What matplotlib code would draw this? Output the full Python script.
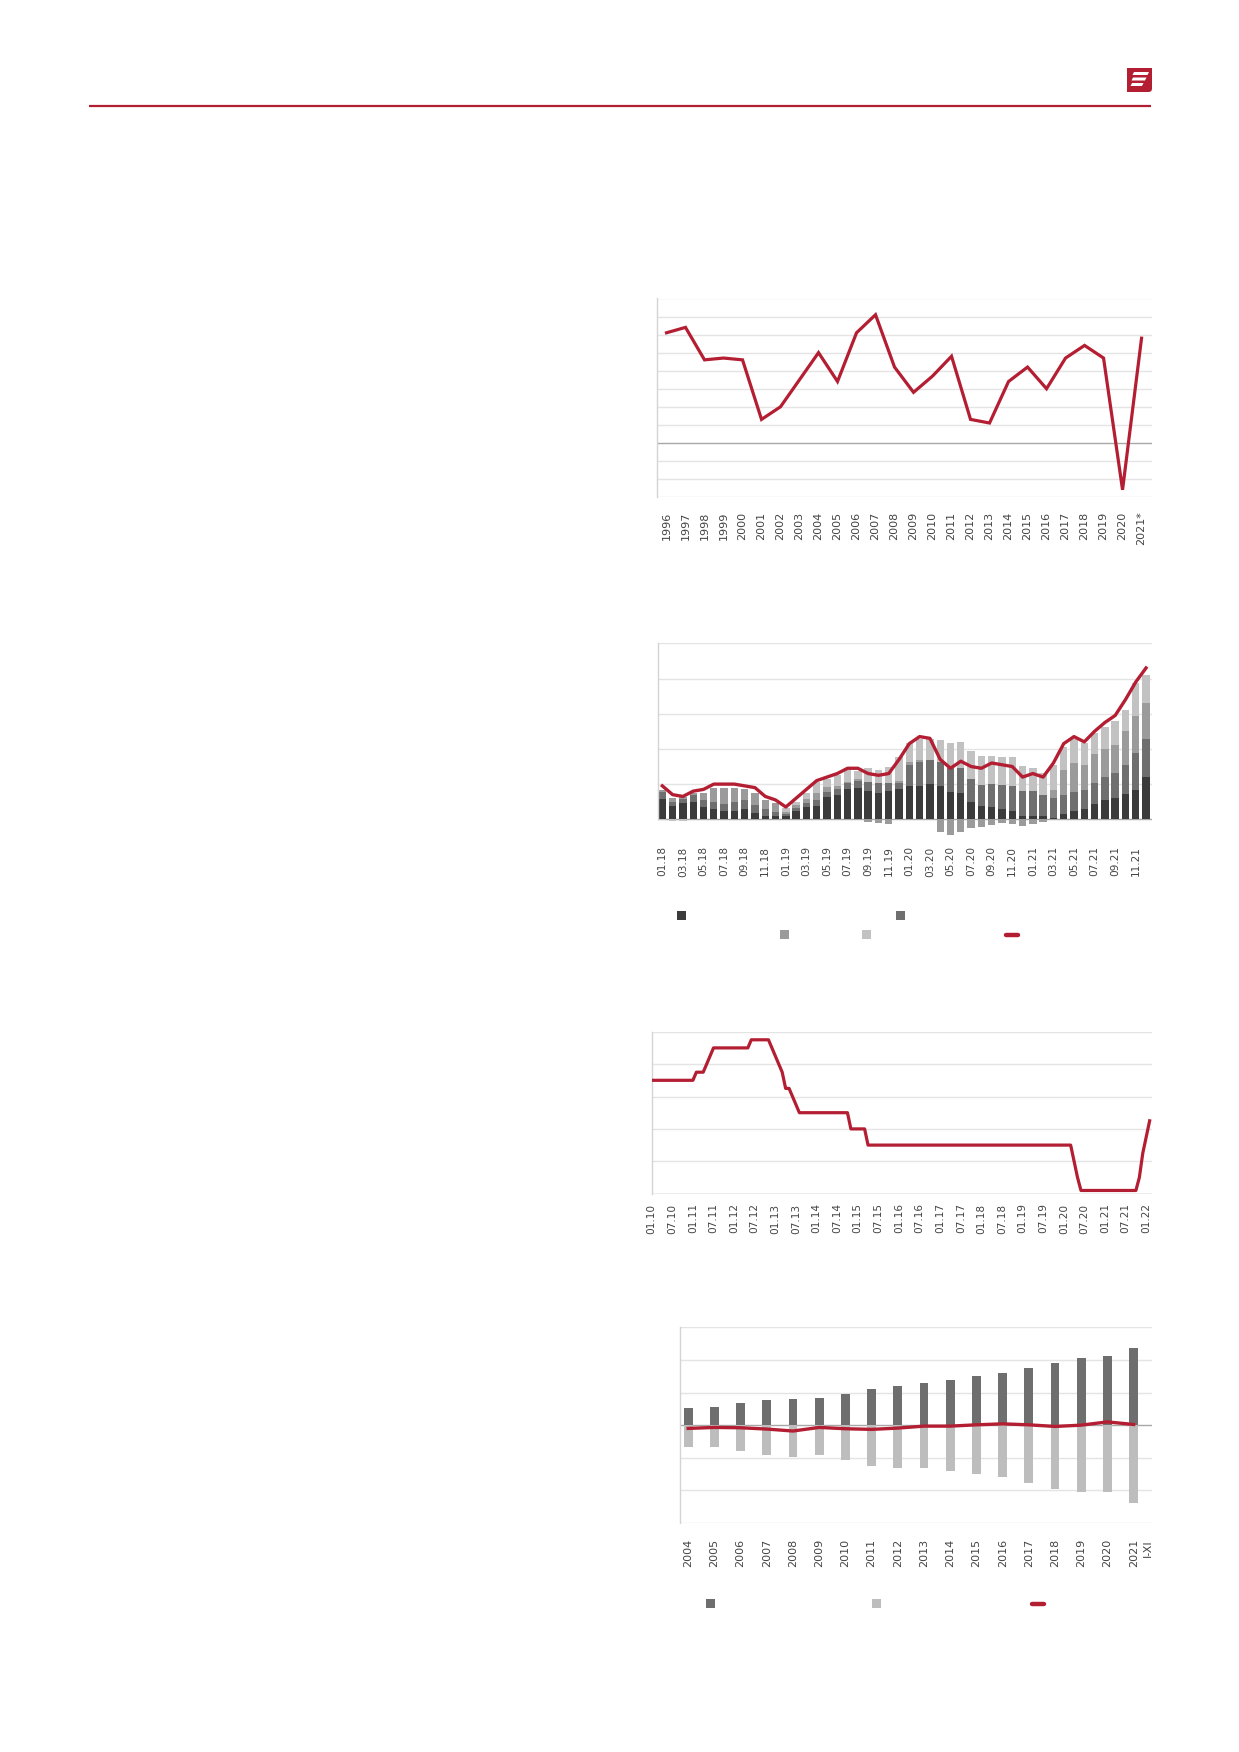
import numpy as np
import matplotlib
matplotlib.use("Agg")
import matplotlib.pyplot as plt
from matplotlib.patches import Rectangle, FancyBboxPatch, Polygon
import matplotlib.transforms as mtransforms

plt.rcParams['font.family'] = ['DejaVu Sans']

RED = '#b41e32'
GRID = '#e4e4e4'
ZERO = '#a8a8a8'
SPINE = '#d4d4d4'
TXT = '#444444'

# chart 1: yearly growth
years1 = [str(y) for y in range(1996, 2021)] + ['2021*']
growth = [6.1, 6.4, 4.6, 4.7, 4.6, 1.3, 2.0, 3.5, 5.0, 3.4, 6.1, 7.1, 4.2,
          2.8, 3.7, 4.8, 1.3, 1.1, 3.4, 4.2, 3.0, 4.7, 5.4, 4.7, -2.6, 5.8]

# chart 2: monthly components 01.18 - 12.21
months2 = ['%02d.%02d' % (m, y) for y in range(18, 22) for m in range(1, 13)]
comp1 = [1.17, 0.78, 0.91, 1.00, 0.72, 0.59, 0.49, 0.49, 0.60, 0.38, 0.21, 0.21,
         0.21, 0.49, 0.72, 0.78, 1.29, 1.38, 1.70, 1.80, 1.61, 1.52, 1.61, 1.70,
         1.89, 1.89, 1.99, 1.89, 1.57, 1.48, 1.00, 0.76, 0.72, 0.57, 0.49, 0.21,
         0.21, 0.21, 0.10, 0.30, 0.47, 0.59, 0.87, 1.10, 1.19, 1.42, 1.67, 2.42]
comp2 = [0.40, 0.22, 0.23, 0.38, 0.38, 0.41, 0.38, 0.51, 0.50, 0.43, 0.38, 0.23,
         0.09, 0.13, 0.19, 0.32, 0.28, 0.32, 0.35, 0.38, 0.53, 0.53, 0.47, 0.38,
         1.20, 1.39, 1.38, 1.39, 1.33, 1.42, 1.29, 1.19, 1.28, 1.38, 1.40, 1.40,
         1.40, 1.17, 1.09, 1.08, 1.10, 1.08, 1.18, 1.32, 1.46, 1.67, 2.12, 2.14]
comp3 = [0.10, 0.19, 0.11, 0.12, 0.42, 0.76, 0.93, 0.80, 0.60, 0.67, 0.51, 0.47,
         0.14, 0.19, 0.23, 0.38, 0.25, 0.19, 0.09, 0.09, -0.13, -0.19, -0.27, 0.10,
         0.19, 0.09, 0.00, -0.70, -0.89, -0.70, -0.51, -0.45, -0.32, -0.23, -0.27, -0.38,
         -0.27, -0.13, 0.48, 1.42, 1.61, 1.42, 1.66, 1.58, 1.57, 1.93, 2.08, 2.07]
comp4 = [-0.06, -0.10, -0.10, 0.00, 0.00, 0.00, 0.00, 0.00, 0.00, 0.00, 0.00, 0.00,
         0.18, 0.19, 0.38, 0.66, 0.45, 0.63, 0.66, 0.50, 0.76, 0.75, 0.92, 1.38,
         1.08, 1.18, 1.18, 1.22, 1.42, 1.51, 1.61, 1.65, 1.60, 1.57, 1.63, 1.42,
         1.29, 1.27, 1.42, 1.33, 1.37, 1.27, 1.18, 1.27, 1.38, 1.19, 1.86, 1.57]
cpi = [1.9, 1.4, 1.3, 1.6, 1.7, 2.0, 2.0, 2.0, 1.9, 1.8, 1.3, 1.1,
       0.7, 1.2, 1.7, 2.2, 2.4, 2.6, 2.9, 2.9, 2.6, 2.5, 2.6, 3.4,
       4.3, 4.7, 4.6, 3.4, 2.9, 3.3, 3.0, 2.9, 3.2, 3.1, 3.0, 2.4,
       2.6, 2.4, 3.2, 4.3, 4.7, 4.4, 5.0, 5.5, 5.9, 6.8, 7.8, 8.6]

# chart 3: policy rate, monthly 01.10 - 02.22
rate = ([3.5] * 13 + [3.75] * 3 + [4.0, 4.25] + [4.5] * 11 + [4.75] * 6 +
        [4.5, 4.25, 4.0, 3.75] + [3.25] * 2 + [3.0, 2.75] + [2.5] * 15 +
        [2.0] * 5 + [1.5] * 60 + [1.0, 0.5] + [0.1] * 17 + [0.5, 1.25, 1.75, 2.25])
rate_ticks = ['%s.%02d' % (m, y) for y in range(10, 22) for m in ('01', '07')] + ['01.22']

# chart 4: yearly flows
years4 = [str(y) for y in range(2004, 2022)]
inflow = [0.53, 0.57, 0.69, 0.78, 0.81, 0.84, 0.96, 1.12, 1.20, 1.29, 1.38, 1.50,
          1.61, 1.76, 1.91, 2.05, 2.13, 2.38]
outflow = [-0.66, -0.66, -0.79, -0.91, -0.99, -0.93, -1.08, -1.24, -1.30, -1.31,
           -1.42, -1.49, -1.58, -1.76, -1.95, -2.04, -2.04, -2.38]
balance = [-0.10, -0.07, -0.08, -0.12, -0.18, -0.07, -0.11, -0.13, -0.09, -0.03,
           -0.03, 0.01, 0.04, 0.01, -0.04, 0.00, 0.10, 0.02]

W, H = 1239, 1752
fig = plt.figure(figsize=(W / 100, H / 100), dpi=100)


def box(l, t, r, b):
    return [l / W, 1 - b / H, (r - l) / W, (b - t) / H]


# page decoration (header line, logo, legend keys)
page = fig.add_axes([0, 0, 1, 1], zorder=0)
page.set_xlim(0, W)
page.set_ylim(H, 0)
page.axis('off')
page.plot([89, 1151], [106, 106], color=RED, lw=1.6, solid_capstyle='butt')
page.add_patch(FancyBboxPatch((1127, 68), 25, 24, boxstyle='round,pad=0,rounding_size=3.5',
                              fc=RED, ec='none'))
page.add_patch(Rectangle((1127, 68), 4, 4, fc=RED, ec='none'))
page.add_patch(Rectangle((1148, 68), 4, 4, fc=RED, ec='none'))
page.add_patch(Rectangle((1127, 88), 4, 4, fc=RED, ec='none'))
for y0, x0, x1 in [(72.0, 1132.5, 1147.5), (77.5, 1131.5, 1145), (83.0, 1130.5, 1142)]:
    page.add_patch(Polygon([(x0 + 1.5, y0), (x1 + 1.5, y0), (x1, y0 + 3), (x0, y0 + 3)],
                           closed=True, fc='white', ec='none'))


def key_square(x, y, c):
    page.add_patch(Rectangle((x - 4.5, y - 4.5), 9, 9, fc=c, ec='none'))


def key_line(x0, x1, y):
    page.plot([x0, x1], [y, y], color=RED, lw=3.2, solid_capstyle='round')


C1, C2, C3, C4 = '#3b3b3b', '#6f6f6f', '#9b9b9b', '#c2c2c2'
key_square(681.5, 915.7, C1)
key_square(900.6, 915.7, C2)
key_square(784.3, 934.3, C3)
key_square(866.4, 934.3, C4)
key_line(1006, 1018, 934.7)
key_square(710.9, 1603.5, '#6e6e6e')
key_square(876.0, 1603.5, '#bdbdbd')
key_line(1032, 1044, 1603.7)


def style(ax, yticks, zero):
    for s in ['top', 'right', 'bottom']:
        ax.spines[s].set_visible(False)
    ax.spines['left'].set_color(SPINE)
    ax.spines['left'].set_linewidth(1.0)
    ax.set_yticks([])
    for v in yticks:
        ax.axhline(v, color=ZERO if v == zero else GRID, lw=1.0, zorder=0)
    ax.tick_params(axis='x', length=0, labelsize=8, labelcolor=TXT)
    ax.patch.set_alpha(0)


# chart 1
ax1 = fig.add_axes(box(657, 298.5, 1152, 497), zorder=2)
x1 = np.arange(len(growth))
ax1.plot(x1, growth, color=RED, lw=2.3, solid_joinstyle='miter')
ax1.set_xlim(-0.5, len(growth) - 0.45)
ax1.set_ylim(-3, 8)
style(ax1, range(-3, 9), 0)
ax1.set_xticks(x1, years1, rotation=90)
ax1.tick_params(axis='x', pad=10.5)

# chart 2
ax2 = fig.add_axes(box(657.7, 643.3, 1151.7, 842.2), zorder=2)
x2 = np.arange(len(cpi))
pos = np.zeros(len(cpi))
neg = np.zeros(len(cpi))
for vals, c in [(comp1, C1), (comp2, C2), (comp3, C3), (comp4, C4)]:
    v = np.array(vals)
    bottom = np.where(v >= 0, pos, neg)
    ax2.bar(x2, v, bottom=bottom, width=0.72, color=c, zorder=2)
    pos = pos + np.clip(v, 0, None)
    neg = neg + np.clip(v, None, 0)
ax2.plot(x2, cpi, color=RED, lw=2.4, zorder=4)
ax2.set_xlim(-0.45, len(cpi) - 0.45)
ax2.set_ylim(-1.3, 10)
style(ax2, range(0, 11, 2), 0)
ax2.spines['left'].set_bounds(0, 10)
ax2.set_xticks(x2[::2], months2[::2], rotation=90)
ax2.tick_params(axis='x', pad=3, labelsize=7.6)

# chart 3
ax3 = fig.add_axes(box(651.7, 1031.7, 1151.7, 1193.7), zorder=2)
x3 = np.arange(len(rate))
ax3.plot(x3, rate, color=RED, lw=2.3, zorder=3)
ax3.set_xlim(0, 145.6)
ax3.set_ylim(0, 5)
style(ax3, range(0, 6), 0)
ax3.set_xticks(np.arange(0, 145, 6), rate_ticks, rotation=90)
ax3.tick_params(axis='x', pad=7, labelsize=7.6)

# chart 4
ax4 = fig.add_axes(box(680.3, 1327.3, 1152, 1523), zorder=2)
x4 = np.arange(len(inflow))
ax4.bar(x4, inflow, width=0.34, color='#6e6e6e', zorder=2)
ax4.bar(x4, outflow, width=0.34, color='#bdbdbd', zorder=2)
ax4.plot(x4, balance, color=RED, lw=2.4, zorder=4)
ax4.set_xlim(-0.3, len(inflow) - 0.3)
ax4.set_ylim(-3, 3)
style(ax4, range(-3, 4), 0)
ax4.set_xticks(x4, years4, rotation=90)
ax4.tick_params(axis='x', pad=11.5)
off = mtransforms.offset_copy(ax4.get_xaxis_transform(), fig=fig, x=10, y=-11.5, units='points')
ax4.text(x4[-1], 0, 'I-XI', rotation=90, ha='center', va='top', fontsize=8,
         color=TXT, transform=off)

fig.savefig('out.png', dpi=100)
